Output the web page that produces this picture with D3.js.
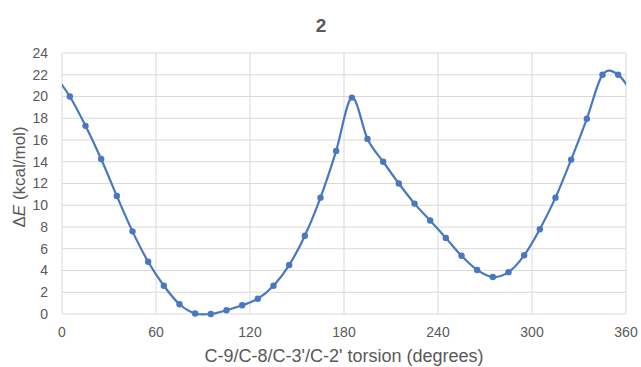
<!DOCTYPE html>
<html>
<head>
<meta charset="utf-8">
<title>2</title>
<script src="https://d3js.org/d3.v7.min.js"></script>
<style>
  body { margin: 0; background: white; }
  text { font-family: "Liberation Sans", Arial, sans-serif; }
</style>
</head>
<body>
<div id="chart"></div>
<script>
// torsion angle (degrees) and relative energy (kcal/mol)
var angles = [-5, 5, 15, 25, 35, 45, 55, 65, 75, 85, 95, 105, 115, 125, 135, 145, 155, 165, 175,
              185, 195, 205, 215, 225, 235, 245, 255, 265, 275, 285, 295, 305, 315, 325, 335, 345, 355, 365];
var energies = [22.0, 20.0, 17.3, 14.25, 10.85, 7.6, 4.8, 2.6, 0.9, 0.05, 0.0, 0.35, 0.8, 1.4, 2.6, 4.5, 7.2, 10.7, 15.0,
                19.9, 16.1, 14.0, 12.0, 10.15, 8.6, 7.0, 5.35, 4.05, 3.4, 3.85, 5.4, 7.8, 10.7, 14.2, 17.95, 22.0, 22.0, 20.0];
var xTicks = [0, 60, 120, 180, 240, 300, 360];
var yTicks = [0, 2, 4, 6, 8, 10, 12, 14, 16, 18, 20, 22, 24];

var width = 641, height = 367;
var margin = {left: 62, right: 15, top: 53, bottom: 53};
var lineColor = "#4878c0";
var gridColor = "#d9d9d9";
var textColor = "#595959";

var svg = d3.select("#chart").append("svg")
  .attr("width", width)
  .attr("height", height);

var x = d3.scaleLinear().domain([0, 360]).range([margin.left, width - margin.right]);
var y = d3.scaleLinear().domain([0, 24]).range([height - margin.bottom, margin.top]);

// gridlines
svg.append("g").selectAll("line.h").data(yTicks).enter().append("line")
  .attr("x1", x(0)).attr("x2", x(360))
  .attr("y1", function(d) { return y(d); }).attr("y2", function(d) { return y(d); })
  .style("stroke", gridColor).style("stroke-width", 1);
svg.append("g").selectAll("line.v").data(xTicks).enter().append("line")
  .attr("x1", function(d) { return x(d); }).attr("x2", function(d) { return x(d); })
  .attr("y1", y(0)).attr("y2", y(24))
  .style("stroke", gridColor).style("stroke-width", 1);

// tick labels
svg.append("g").selectAll("text").data(yTicks).enter().append("text")
  .attr("x", x(0) - 14).attr("y", function(d) { return y(d); })
  .attr("dy", "0.35em").attr("text-anchor", "end")
  .style("font-size", "14px").style("fill", textColor)
  .text(function(d) { return d; });
svg.append("g").selectAll("text").data(xTicks).enter().append("text")
  .attr("x", function(d) { return x(d); }).attr("y", y(0) + 23)
  .attr("text-anchor", "middle")
  .style("font-size", "14px").style("fill", textColor)
  .text(function(d) { return d; });

// title
svg.append("text")
  .attr("x", 321).attr("y", 32).attr("text-anchor", "middle")
  .style("font-size", "19px").style("font-weight", "bold").style("fill", textColor)
  .text("2");

// axis titles
svg.append("text")
  .attr("x", (x(0) + x(360)) / 2).attr("y", 362).attr("text-anchor", "middle")
  .style("font-size", "18px").style("fill", textColor)
  .text("C-9/C-8/C-3'/C-2' torsion (degrees)");

var yTitle = svg.append("text")
  .attr("transform", "translate(25,177) rotate(-90)")
  .attr("text-anchor", "middle")
  .style("font-size", "17px").style("fill", textColor);
yTitle.append("tspan").text("\u0394");
yTitle.append("tspan").style("font-style", "italic").text("E");
yTitle.append("tspan").text(" (kcal/mol)");

// clip to plot area
svg.append("clipPath").attr("id", "plotclip").append("rect")
  .attr("x", x(0)).attr("y", 0)
  .attr("width", x(360) - x(0)).attr("height", height);

var points = angles.map(function(a, i) { return [a, energies[i]]; });

var line = d3.line()
  .x(function(d) { return x(d[0]); })
  .y(function(d) { return y(d[1]); })
  .curve(d3.curveCatmullRom.alpha(0));

var plot = svg.append("g").attr("clip-path", "url(#plotclip)");
plot.append("path")
  .datum(points)
  .attr("d", line)
  .style("fill", "none")
  .style("stroke", lineColor)
  .style("stroke-width", 2.2);

plot.selectAll("circle").data(points.filter(function(d) { return d[0] > 0 && d[0] < 360; }))
  .enter().append("circle")
  .attr("cx", function(d) { return x(d[0]); })
  .attr("cy", function(d) { return y(d[1]); })
  .attr("r", 3.2)
  .style("fill", lineColor);
</script>
</body>
</html>
